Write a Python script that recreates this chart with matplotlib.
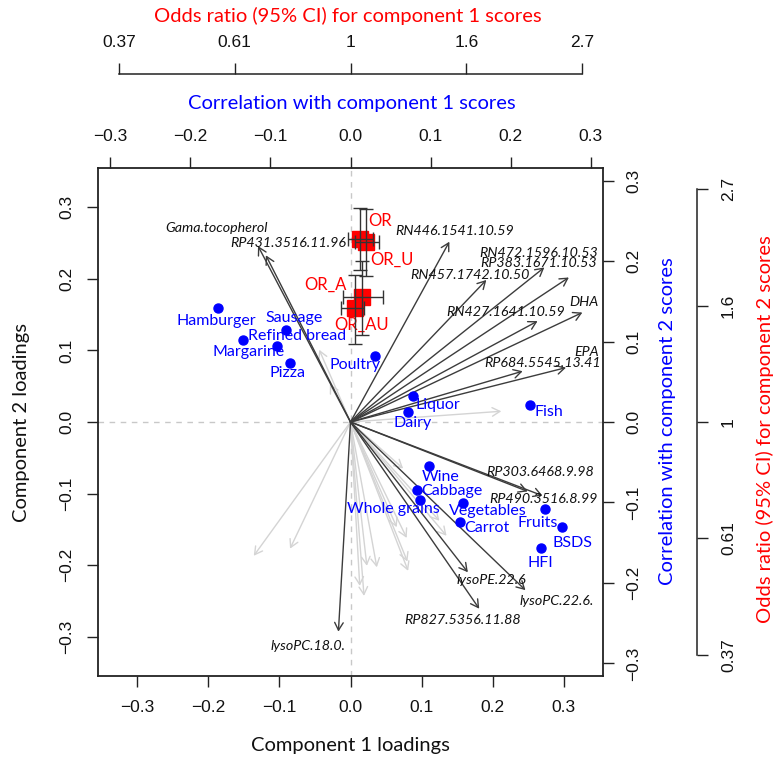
import numpy as np
import matplotlib
matplotlib.use("Agg")
import matplotlib.pyplot as plt
from matplotlib import font_manager

# ---------------- data ----------------
# food groups: correlation with component 1 / component 2 scores
foods = ['Hamburger', 'Margarine', 'Sausage', 'Refined bread', 'Pizza', 'Poultry',
         'Liquor', 'Dairy', 'Fish', 'Wine', 'Cabbage', 'Whole grains',
         'Vegetables', 'Carrot', 'Fruits', 'BSDS', 'HFI']
food_c1 = [-0.165, -0.134, -0.080, -0.092, -0.075, 0.031,
           0.078, 0.072, 0.224, 0.098, 0.083, 0.087,
           0.141, 0.137, 0.243, 0.264, 0.238]
food_c2 = [0.142, 0.102, 0.114, 0.094, 0.073, 0.082,
           0.032, 0.013, 0.021, -0.055, -0.084, -0.097,
           -0.101, -0.124, -0.108, -0.131, -0.157]

# selected metabolites: loadings on component 1 / 2
metab = ['Gama.tocopherol', 'RP431.3516.11.96', 'RN446.1541.10.59', 'RN472.1596.10.53',
         'RP383.1671.10.53', 'RN457.1742.10.50', 'RN427.1641.10.59', 'DHA', 'EPA',
         'RP684.5545.13.41', 'RP303.6468.9.98', 'RP490.3516.8.99', 'lysoPE.22.6',
         'lysoPC.22.6.', 'RP827.5356.11.88', 'lysoPC.18.0.']
metab_l1 = [-0.130, -0.119, 0.139, 0.2725, 0.307, 0.191, 0.263, 0.326, 0.303,
            0.242, 0.249, 0.270, 0.165, 0.246, 0.181, -0.017]
metab_l2 = [0.246, 0.233, 0.252, 0.216, 0.202, 0.1985, 0.141, 0.153, 0.076,
            0.071, -0.097, -0.103, -0.210, -0.235, -0.261, -0.293]

# other metabolites (not selected), drawn light grey
other_l1 = [-0.136, -0.085, -0.029, -0.044, 0.212, 0.013, 0.019, 0.023,
            0.037, 0.081, 0.065, 0.074, 0.125, 0.135, 0.080, 0.079]
other_l2 = [-0.187, -0.177, 0.053, 0.101, 0.015, -0.229, -0.243, -0.201,
            -0.203, -0.208, -0.147, -0.065, -0.138, -0.159, -0.195, -0.162]

# odds ratios (95% CI) for component 1 / component 2 scores
or_names = ['OR', 'OR_U', 'OR_A', 'OR_AU']
or_c1 = [1.04, 1.07, 1.05, 1.02]
or_c1_lo = [0.99, 1.02, 0.97, 0.96]
or_c1_hi = [1.10, 1.13, 1.15, 1.06]
or_c2 = [2.19, 2.17, 1.71, 1.63]
or_c2_lo = [1.92, 1.87, 1.45, 1.40]
or_c2_hi = [2.51, 2.50, 2.00, 1.88]

or_ticks = [0.37, 0.61, 1, 1.6, 2.7]
ticks = [-0.3, -0.2, -0.1, 0.0, 0.1, 0.2, 0.3]

# ---------------- layout (label offsets in pixels) ----------------
food_off = [(-2, -13), (5, -12), (8, 12), (20, 10), (-3, -10), (-20, -9),
            (25, -9), (5, -11), (19, -7), (12, -11), (35, -1), (-27, -9),
            (25, -8), (27, -6), (-7, -14), (11, -16), (-1, -15)]
metab_off = [(-41, 18), (22, 12), (5, 11), (-6, 14), (-30, 14), (-16, 5), (-32, 9),
             (2, 11), (21, 16), (20, 8), (13, 19), (1, -3), (24, -8), (31, -11),
             (-17, -11), (-30, -14)]
or_off = [(20, 18), (26, -18), (-36, 12), (6, -17)]

fams = {f.name for f in font_manager.fontManager.ttflist}
TICKF = 'Liberation Sans Narrow' if 'Liberation Sans Narrow' in fams else 'Liberation Sans'
LAB = ['Lato', 'DejaVu Sans']

COR_K = 1.125   # loading units per correlation unit
OR_K = 0.3255   # loading units per log(OR) unit
LIM = 0.355

W, H = 778, 774
fig = plt.figure(figsize=(W / 100, H / 100), dpi=100)


def box(l, t, r, b):
    return [l / W, 1 - b / H, (r - l) / W, (b - t) / H]


def fmt(t):
    return '%.1f' % t if t >= 0 else '\u2212%.1f' % -t


pos = box(98, 168, 603, 676)
ink = '#222222'
tick_kw = dict(direction='out', length=8, width=1, color=ink, pad=9,
               labelsize=12.5, labelcolor='#111111')

# main axes: loadings
ax = fig.add_axes(pos)
ax.set_xlim(-LIM, LIM)
ax.set_ylim(-LIM, LIM)
for s in ax.spines.values():
    s.set_color(ink)
    s.set_linewidth(1.3)
ax.set_xticks(ticks)
ax.set_yticks(ticks)
ax.set_xticklabels([fmt(t) for t in ticks])
ax.set_yticklabels([fmt(t) for t in ticks], rotation=90, va='center')
ax.tick_params(**tick_kw)
for lb in ax.get_xticklabels() + ax.get_yticklabels():
    lb.set_family(TICKF)

ax.axhline(0, color='#c8c8c8', lw=1, ls=(0, (4, 4)), zorder=0)
ax.axvline(0, color='#c8c8c8', lw=1, ls=(0, (4, 4)), zorder=0)

head = '->,head_length=0.5,head_width=0.28'
for x, y in zip(other_l1, other_l2):
    ax.annotate('', xy=(x, y), xytext=(0, 0),
                arrowprops=dict(arrowstyle=head, color='#d4d4d4', lw=1,
                                shrinkA=0, shrinkB=0, mutation_scale=11))
for x, y in zip(metab_l1, metab_l2):
    ax.annotate('', xy=(x, y), xytext=(0, 0),
                arrowprops=dict(arrowstyle=head, color='#3c3c3c', lw=1,
                                shrinkA=0, shrinkB=0, mutation_scale=11))
for name, x, y, (dx, dy) in zip(metab, metab_l1, metab_l2, metab_off):
    ax.annotate(name, (x, y), xytext=(dx, dy), textcoords='offset pixels',
                ha='center', va='center', fontsize=10.3, style='italic',
                family=LAB, color='#111111')

# correlation axes (top / right), foods
axc = fig.add_axes(pos, label='cor')
axc.patch.set_visible(False)
for s in axc.spines.values():
    s.set_visible(False)
axc.set_xlim(-LIM / COR_K, LIM / COR_K)
axc.set_ylim(-LIM / COR_K, LIM / COR_K)
axc.xaxis.tick_top()
axc.yaxis.tick_right()
axc.set_xticks(ticks)
axc.set_yticks(ticks)
axc.set_xticklabels([fmt(t) for t in ticks])
axc.set_yticklabels([fmt(t) for t in ticks], rotation=90, va='center')
axc.tick_params(**tick_kw)
for lb in axc.get_xticklabels() + axc.get_yticklabels():
    lb.set_family(TICKF)

axc.plot(food_c1, food_c2, 'o', color='#0000ff', ms=6.5, zorder=3)
for name, x, y, (dx, dy) in zip(foods, food_c1, food_c2, food_off):
    axc.annotate(name, (x, y), xytext=(dx, dy), textcoords='offset pixels',
                 ha='center', va='center', fontsize=11.5, family=LAB, color='#0000ff')

# odds ratio axes (outer top / right), log scale
axo = fig.add_axes(pos, label='or')
axo.patch.set_visible(False)
axo.set_xscale('log')
axo.set_yscale('log')
axo.set_xlim(np.exp(-LIM / OR_K), np.exp(LIM / OR_K))
axo.set_ylim(np.exp(-LIM / OR_K), np.exp(LIM / OR_K))
axo.spines['left'].set_visible(False)
axo.spines['bottom'].set_visible(False)
for side in ['top', 'right']:
    axo.spines[side].set_position(('outward', 68))
    axo.spines[side].set_bounds(np.exp(-1), np.exp(1))
    axo.spines[side].set_color(ink)
    axo.spines[side].set_linewidth(1.1)
axo.xaxis.tick_top()
axo.yaxis.tick_right()
tick_pos = np.exp([-1, -0.5, 0, 0.5, 1])
axo.set_xticks(tick_pos)
axo.set_yticks(tick_pos)
axo.set_xticks([], minor=True)
axo.set_yticks([], minor=True)
axo.set_xticklabels([str(t) for t in or_ticks])
axo.set_yticklabels([str(t) for t in or_ticks], rotation=90, va='center')
axo.tick_params(**tick_kw)
for lb in axo.get_xticklabels() + axo.get_yticklabels():
    lb.set_family(TICKF)

or_c1 = np.array(or_c1)
or_c2 = np.array(or_c2)
axo.plot(or_c1, or_c2, 's', color='#ff0000', ms=11, zorder=3)
axo.errorbar(or_c1, or_c2,
             xerr=[or_c1 - np.array(or_c1_lo), np.array(or_c1_hi) - or_c1],
             yerr=[or_c2 - np.array(or_c2_lo), np.array(or_c2_hi) - or_c2],
             fmt='none', ecolor='#333333', elinewidth=1, capsize=5, capthick=1, zorder=4)
for name, x, y, (dx, dy) in zip(or_names, or_c1, or_c2, or_off):
    axo.annotate(name, (x, y), xytext=(dx, dy), textcoords='offset pixels',
                 ha='center', va='center', fontsize=12, family=LAB, color='#ff0000')


# titles
def ftext(x, y, s, **kw):
    fig.text(x / W, 1 - y / H, s, ha='center', va='center', family=LAB,
             fontsize=14.5, **kw)


ftext(348, 16, 'Odds ratio (95% CI) for component 1 scores', color='#ff0000')
ftext(352, 104, 'Correlation with component 1 scores', color='#0000ff')
ftext(350, 746, 'Component 1 loadings', color='#111111')
ftext(22, 422, 'Component 2 loadings', color='#111111', rotation=90)
ftext(667, 421, 'Correlation with component 2 scores', color='#0000ff', rotation=90)
ftext(765, 429, 'Odds ratio (95% CI) for component 2 scores', color='#ff0000', rotation=90)

fig.savefig('out.png', dpi=100)
